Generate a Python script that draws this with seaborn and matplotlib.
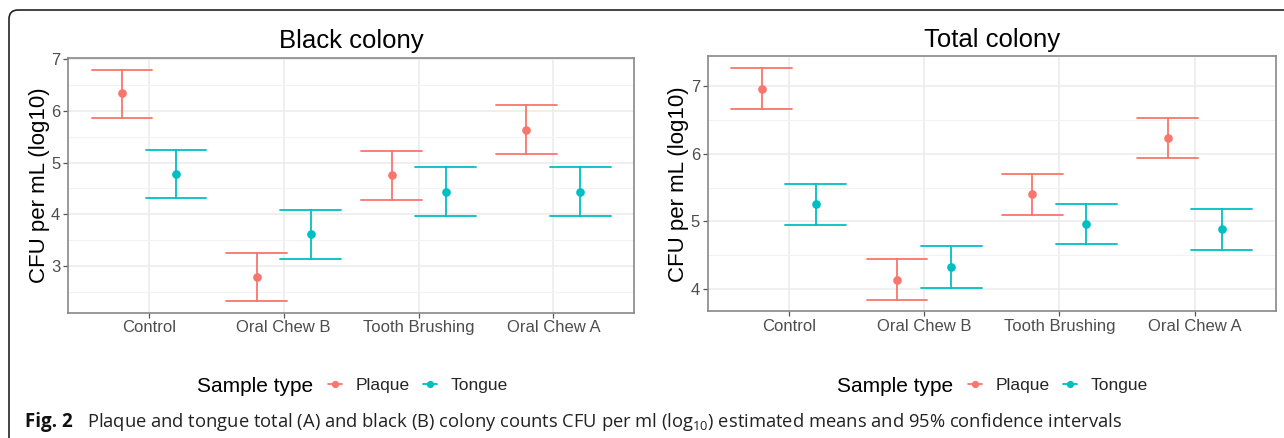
import numpy as np
import pandas as pd
import matplotlib
matplotlib.use("Agg")
import matplotlib.pyplot as plt
import seaborn as sns
from matplotlib.lines import Line2D
from matplotlib.patches import FancyBboxPatch

# ---------------- data ----------------
categories = ["Control", "Oral Chew B", "Tooth Brushing", "Oral Chew A"]
sample_types = ["Plaque", "Tongue"]

black_plaque_mean = [6.34, 2.79, 4.76, 5.64]
black_plaque_lo = [5.87, 2.32, 4.28, 5.17]
black_plaque_hi = [6.80, 3.25, 5.23, 6.11]
black_tongue_mean = [4.78, 3.62, 4.43, 4.44]
black_tongue_lo = [4.32, 3.14, 3.96, 3.97]
black_tongue_hi = [5.25, 4.08, 4.91, 4.91]

total_plaque_mean = [6.96, 4.13, 5.40, 6.23]
total_plaque_lo = [6.66, 3.84, 5.10, 5.94]
total_plaque_hi = [7.27, 4.44, 5.70, 6.53]
total_tongue_mean = [5.25, 4.33, 4.96, 4.88]
total_tongue_lo = [4.95, 4.02, 4.66, 4.58]
total_tongue_hi = [5.55, 4.63, 5.26, 5.18]

black_yticks = [3, 4, 5, 6, 7]
total_yticks = [4, 5, 6, 7]

PALETTE = {"Plaque": "#F8766D", "Tongue": "#00BFC4"}


def long_frame(pm, plo, phi, tm, tlo, thi):
    rows = []
    for s, (m, lo, hi) in zip(sample_types, [(pm, plo, phi), (tm, tlo, thi)]):
        for c, a, b, d in zip(categories, lo, m, hi):
            for v in (a, b, d):
                rows.append({"cat": c, "sample": s, "value": v})
    return pd.DataFrame(rows)


black_df = long_frame(black_plaque_mean, black_plaque_lo, black_plaque_hi,
                      black_tongue_mean, black_tongue_lo, black_tongue_hi)
total_df = long_frame(total_plaque_mean, total_plaque_lo, total_plaque_hi,
                      total_tongue_mean, total_tongue_lo, total_tongue_hi)

# ---------------- style ----------------
sns.set_theme(style="white")
plt.rcParams["font.family"] = ["Liberation Sans", "DejaVu Sans"]

W, H = 1284, 438
fig = plt.figure(figsize=(W / 100, H / 100), dpi=100)
fig.patch.set_facecolor("white")


def px_axes(x0, y0, x1, y1):
    return fig.add_axes([x0 / W, 1 - y1 / H, (x1 - x0) / W, (y1 - y0) / H])


ax1 = px_axes(68, 58, 634.3, 312.7)
ax2 = px_axes(707.7, 56.3, 1275.7, 311.3)


def draw_panel(ax, df, title, yticks):
    sns.pointplot(data=df, x="cat", y="value", hue="sample",
                  order=categories, hue_order=sample_types, palette=PALETTE,
                  estimator="median", errorbar=("pi", 100),
                  dodge=0.4, linestyle="none", markers="o",
                  capsize=0.45, markersize=4.2,
                  err_kws={"linewidth": 1.3}, legend=False, ax=ax, zorder=3)
    lo, hi = df["value"].min(), df["value"].max()
    pad = (hi - lo) * 0.05
    ax.set_yticks(yticks)
    minor = [t + 0.5 for t in [yticks[0] - 1] + yticks]
    ax.set_yticks(minor, minor=True)
    ax.set_xlim(-0.6, 3.6)
    ax.set_ylim(lo - pad, hi + pad)
    ax.grid(True, which="major", color="#EBEBEB", linewidth=1.1, zorder=0)
    ax.grid(True, which="minor", axis="y", color="#F2F2F2", linewidth=0.8, zorder=0)
    ax.set_axisbelow(True)
    for sp in ax.spines.values():
        sp.set_color("#888888")
        sp.set_linewidth(1.2)
    ax.tick_params(axis="both", which="major", length=3.5, width=0.9,
                   color="#555555", labelcolor="#4D4D4D", labelsize=12, pad=2,
                   bottom=True, left=True)
    ax.tick_params(axis="both", which="minor", length=0)
    ax.set_xlabel("")
    ax.set_ylabel("CFU per mL (log10)", fontsize=16, color="black", labelpad=1)
    ax.set_title(title, fontsize=18.5, color="black", pad=7)


draw_panel(ax1, black_df, "Black colony", black_yticks)
draw_panel(ax2, total_df, "Total colony", total_yticks)

# ---------------- legends ----------------
handles = [Line2D([0], [0], color=PALETTE[s], marker="o", markersize=4.2,
                  linewidth=1.3) for s in sample_types]
for tx, lx in [(197, 328), (837, 968)]:
    fig.text(tx / W, 1 - 386 / H, "Sample type", fontsize=15, ha="left",
             va="center", color="black")
    fig.legend(handles, sample_types, loc="center left",
               bbox_to_anchor=(lx / W, 1 - 385 / H), ncol=2, frameon=False,
               fontsize=12.5, handlelength=0.8, handletextpad=0.8,
               columnspacing=0.75, borderaxespad=0, borderpad=0)

# ---------------- caption ----------------
cap_font = ["Open Sans", "DejaVu Sans"]
fig.text(25 / W, 1 - 422 / H, "Fig. 2", fontsize=13.5, fontweight="bold",
         family=cap_font, ha="left", va="center", color="#111111")
fig.text(87 / W, 1 - 422 / H,
         r"Plaque and tongue total (A) and black (B) colony counts CFU per ml (log$_{\mathregular{10}}$) estimated means and 95% confidence intervals",
         fontsize=13.2, family=cap_font, ha="left", va="center", color="#222222")

# ---------------- border ----------------
border = FancyBboxPatch((9, -30), 1400, H - 10 + 30, boxstyle="round,pad=0,rounding_size=9",
                        transform=None, facecolor="none", edgecolor="#222222",
                        linewidth=1.2)
fig.add_artist(border)

fig.savefig("out.png", dpi=100)
